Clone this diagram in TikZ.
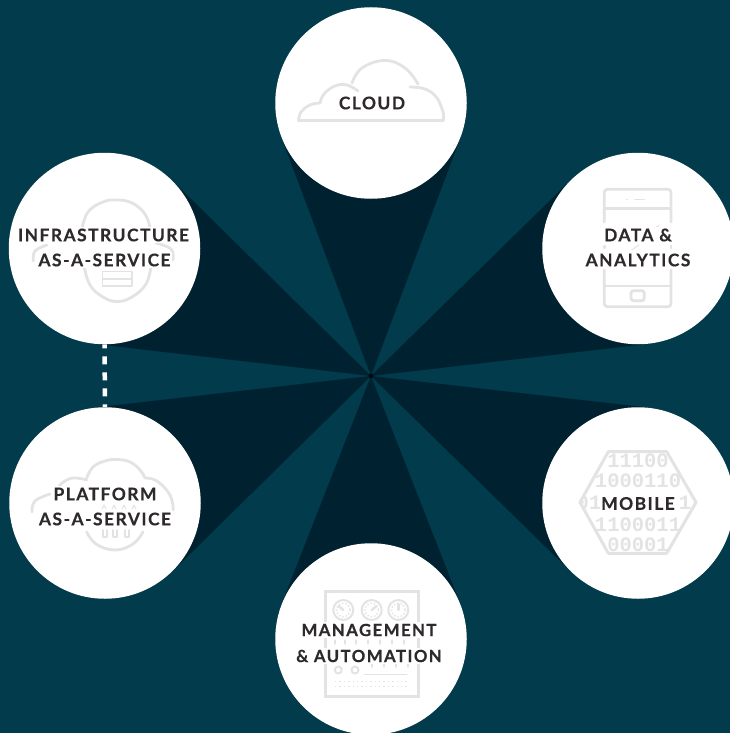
\documentclass[tikz,border=0pt]{standalone}
\usepackage{fontspec}
\usetikzlibrary{calc,backgrounds}
\newfontfamily\lblfont[LetterSpace=8.5,FakeBold=0.35]{Lato Bold}
\newfontfamily\digitfont{Liberation Mono}
\definecolor{bgteal}{HTML}{013B4C}
\definecolor{wedgedark}{HTML}{00212F}
\definecolor{hubdark}{HTML}{000D14}
\definecolor{inkdark}{HTML}{2E2A2B}
\definecolor{icongray}{HTML}{E3E3E3}
\tikzset{
  disc/.style={circle,fill=white,draw=none,inner sep=0pt,minimum size=191.5pt},
  wedge/.style={fill=wedgedark,draw=none},
  lbl/.style={font=\lblfont\fontsize{17.4}{20}\selectfont,text=inkdark,fill=white,inner sep=1.5pt,outer sep=0pt},
  lblsmall/.style={lbl,font=\lblfont\fontsize{16.8}{20}\selectfont},
  icon/.style={draw=icongray,line width=2.8pt,line cap=round,line join=round},
  thinicon/.style={draw=icongray,line width=1.6pt,line cap=round,line join=round},
  digits/.style={font=\digitfont\bfseries\fontsize{20.5}{20}\selectfont,text=icongray,inner sep=0pt},
  link/.style={draw=white,line width=4.5pt,dash pattern=on 8pt off 8pt,dash phase=4pt}
}
\begin{document}
\begin{tikzpicture}[x=1pt,y=-1pt]
\useasboundingbox (0,0) rectangle (730,733);
\coordinate (hub) at (371,376);
\node[disc] (cloud) at (371,103) {};
\node[disc] (data) at (638,248.5) {};
\node[disc] (mobile) at (638,503) {};
\node[disc] (mgmt) at (371,639) {};
\node[disc] (plat) at (105,503) {};
\node[disc] (infra) at (104.5,248.5) {};
\begin{scope}[on background layer]
\fill[bgteal] (0,0) rectangle (730,733);
\foreach \n in {cloud,data,mobile,mgmt,plat,infra}{
  \path[wedge] (hub) -- (tangent cs:node=\n,point={(hub)},solution=1) -- (\n.center) -- (tangent cs:node=\n,point={(hub)},solution=2) -- cycle;
}
\fill[hubdark] (hub) circle[radius=2.5];
\draw[link] (infra.south) -- (plat.north);
\end{scope}
% cloud icon
\draw[icon] (298.5,120.7) -- (443.3,120.7) -- (443.3,113);
\draw[icon] plot[smooth,tension=0.7] coordinates {(298.5,120.7) (301,112) (310,105) (320,103)};
\draw[icon] plot[smooth,tension=0.7] coordinates {(320,103) (324,94) (335,86) (347,85) (358,91)};
\draw[icon] plot[smooth,tension=0.7] coordinates {(352,83) (362,68) (385,60.5) (405,68) (418,84)};
\draw[icon] plot[smooth,tension=0.7] coordinates {(410,87) (425,89) (437,98) (443.3,113)};
% infrastructure icon
\draw[icon] plot[smooth,tension=0.7] coordinates {(81.7,230) (88,212) (103,202) (117,200) (132,203) (145,214) (150,228)};
\draw[icon] plot[smooth,tension=0.7] coordinates {(84,266) (90,285) (103,297) (117,301.5) (132,297) (146,284) (151,266)};
\draw[icon] plot[smooth,tension=0.7] coordinates {(33.3,261) (35,251) (47,245)};
\draw[icon] plot[smooth,tension=0.7] coordinates {(173,260) (171,249) (156,243)};
\draw[thinicon] (102.5,271.5) rectangle (131.7,286);
\draw[thinicon] (102.5,278.7) -- (131.7,278.7);
% platform icon
\draw[icon] plot[smooth,tension=0.7] coordinates {(86.7,478) (93,467) (105,461) (117,459.5) (130,462) (140,470) (145,478)};
\draw[icon] plot[smooth,tension=0.7] coordinates {(86.7,480) (73,478) (62,483) (58,489)};
\draw[icon] plot[smooth,tension=0.7] coordinates {(145,478) (157,481) (170,495) (173.3,510)};
\draw[icon] plot[smooth,tension=0.7] coordinates {(32,512) (35,501) (50,494)};
\draw[icon] plot[smooth,tension=0.7] coordinates {(86.7,532) (96,544) (115,550) (133,544) (143,532)};
\foreach \x in {105,115,127}{\draw[thinicon] (\x-2,530) -- (\x-2,537) -- (\x+2,537) -- (\x+2,530);}
\foreach \x in {104,114,124,134}{\draw[thinicon,line width=1pt] (\x-2,509) -- (\x,505) -- (\x+2,509);}
% management icon
\draw[icon,line cap=butt,line join=miter,line width=3pt] (325,591) rectangle (418.3,696.7);
\foreach \x/\a in {343.3/-50,371.7/50,398.3/0}{
  \draw[thinicon,line width=2pt] (\x,610) circle[radius=10];
  \draw[thinicon,line width=1.4pt,dash pattern=on 1.4pt off 2pt,line cap=butt] (\x,610) circle[radius=6.8];
  \draw[thinicon,line width=2.4pt] (\x,610) -- ++(\a-90:6);
}
\foreach \x in {338.3,355}{\draw[thinicon,line width=2pt] (\x,670) circle[radius=3.5];}
\draw[thinicon] (365,674.3) -- (406.7,674.3);
\foreach \y in {681.7,686.7}{\draw[thinicon,line width=1.4pt,dash pattern=on 1.4pt off 3pt,line cap=butt] (335,\y) -- (407,\y);}
\foreach \x in {372,384,396,408}{\draw[thinicon,line width=1.2pt] (\x,664) -- (\x,667);}
\foreach \x in {335,345,356,368,380,392,404}{\draw[thinicon,line width=1.2pt] (\x,640) -- (\x,644);}
% data icon
\draw[icon,rounded corners=3pt] (604.3,222) -- (604.3,189.3) -- (671,189.3) -- (671,222);
\draw[icon,rounded corners=3pt] (604.3,270) -- (604.3,306.7) -- (671,306.7) -- (671,270);
\draw[thinicon,line width=2.4pt] (604.3,246) -- (604.3,248);
\draw[thinicon,line width=2.4pt] (671,246) -- (671,248);
\draw[icon] (604.3,208.3) -- (671,208.3);
\draw[icon] (604.3,286) -- (671,286);
\draw[thinicon] (626.7,199.3) -- (627.2,199.3);
\draw[thinicon] (635,199.3) -- (644.3,199.3);
\draw[icon,rounded corners=2.5pt] (631,290.7) rectangle (644.3,300.7);
\draw[thinicon,line width=1pt] (651.7,231.7) -- (659,225);
\draw[thinicon,line width=1pt] (631.7,250) -- (639,245);
% mobile icon
\begin{scope}
\clip (608.3,451.7) -- (666.7,451.7) -- (696,502.3) -- (666.7,553.3) -- (608.3,553.3) -- (580,502.3) -- cycle;
\node[digits] (rowa) at (638,460.5) {11100};
\node[digits] (rowb) at (638,481) {1000110};
\node[digits] (rowcl) at (589,502.5) {01};
\node[digits] (rowcr) at (685,502.5) {1};
\node[digits] (rowd) at (638,525) {1100011};
\node[digits] (rowe) at (638,545) {00001};
\end{scope}
\draw[icon,line width=3pt] (608.3,451.7) -- (666.7,451.7) -- (696,502.3) -- (666.7,553.3) -- (608.3,553.3) -- (580,502.3) -- cycle;
% labels
\node[lbl] (t1) at (372,103) {CLOUD};
\node[lbl] (t2) at (638,235) {DATA \&};
\node[lbl] (t3) at (638,260) {ANALYTICS};
\node[lbl] (t4) at (638,503.5) {MOBILE};
\node[lblsmall] (t5) at (369,630) {MANAGEMENT};
\node[lblsmall] (t6) at (369,656) {\& AUTOMATION};
\node[lbl] (t7) at (105,494) {PLATFORM};
\node[lbl] (t8) at (105,519) {AS-A-SERVICE};
\node[lbl] (t9) at (103.5,235) {INFRASTRUCTURE};
\node[lbl] (t10) at (104.5,260) {AS-A-SERVICE};
\end{tikzpicture}
\end{document}
